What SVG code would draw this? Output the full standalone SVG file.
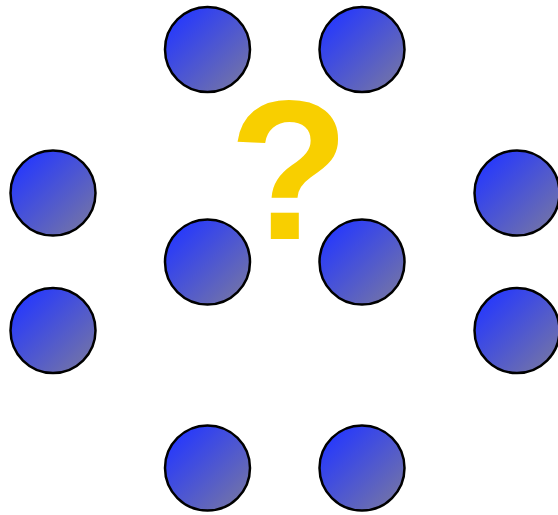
<svg xmlns="http://www.w3.org/2000/svg" width="558" height="515" viewBox="0 0 558 515">
<style>
.n{fill:url(#g);stroke:#000;stroke-width:2.5}
.q{font-family:"Liberation Sans",Arial,sans-serif;font-weight:bold;font-size:198px;fill:#F8CF00;text-anchor:middle}
</style>
<defs>
<linearGradient id="g" x1="0.1" y1="0.1" x2="0.9" y2="0.9">
<stop offset="0" stop-color="#2437FF"/>
<stop offset="1" stop-color="#7273A8"/>
</linearGradient>
</defs>
<rect width="558" height="515" fill="#fff"/>
<g id="connectors"/>
<g id="n1"><circle class="n" cx="207.5" cy="49.5" r="42.5"/></g>
<g id="n2"><circle class="n" cx="362" cy="49.5" r="42.5"/></g>
<g id="n3"><circle class="n" cx="53" cy="193" r="42.5"/></g>
<g id="n4"><circle class="n" cx="517" cy="193" r="42.5"/></g>
<g id="n5"><circle class="n" cx="53" cy="330.5" r="42.5"/></g>
<g id="n6"><circle class="n" cx="517" cy="330.5" r="42.5"/></g>
<g id="n7"><circle class="n" cx="207.5" cy="262" r="42.5"/></g>
<g id="n8"><circle class="n" cx="362" cy="262" r="42.5"/></g>
<g id="n9"><circle class="n" cx="207.5" cy="468" r="42.5"/></g>
<g id="n10"><circle class="n" cx="362" cy="468" r="42.5"/></g>
<g id="q"><text class="q" x="289" y="239">?</text></g>
</svg>
